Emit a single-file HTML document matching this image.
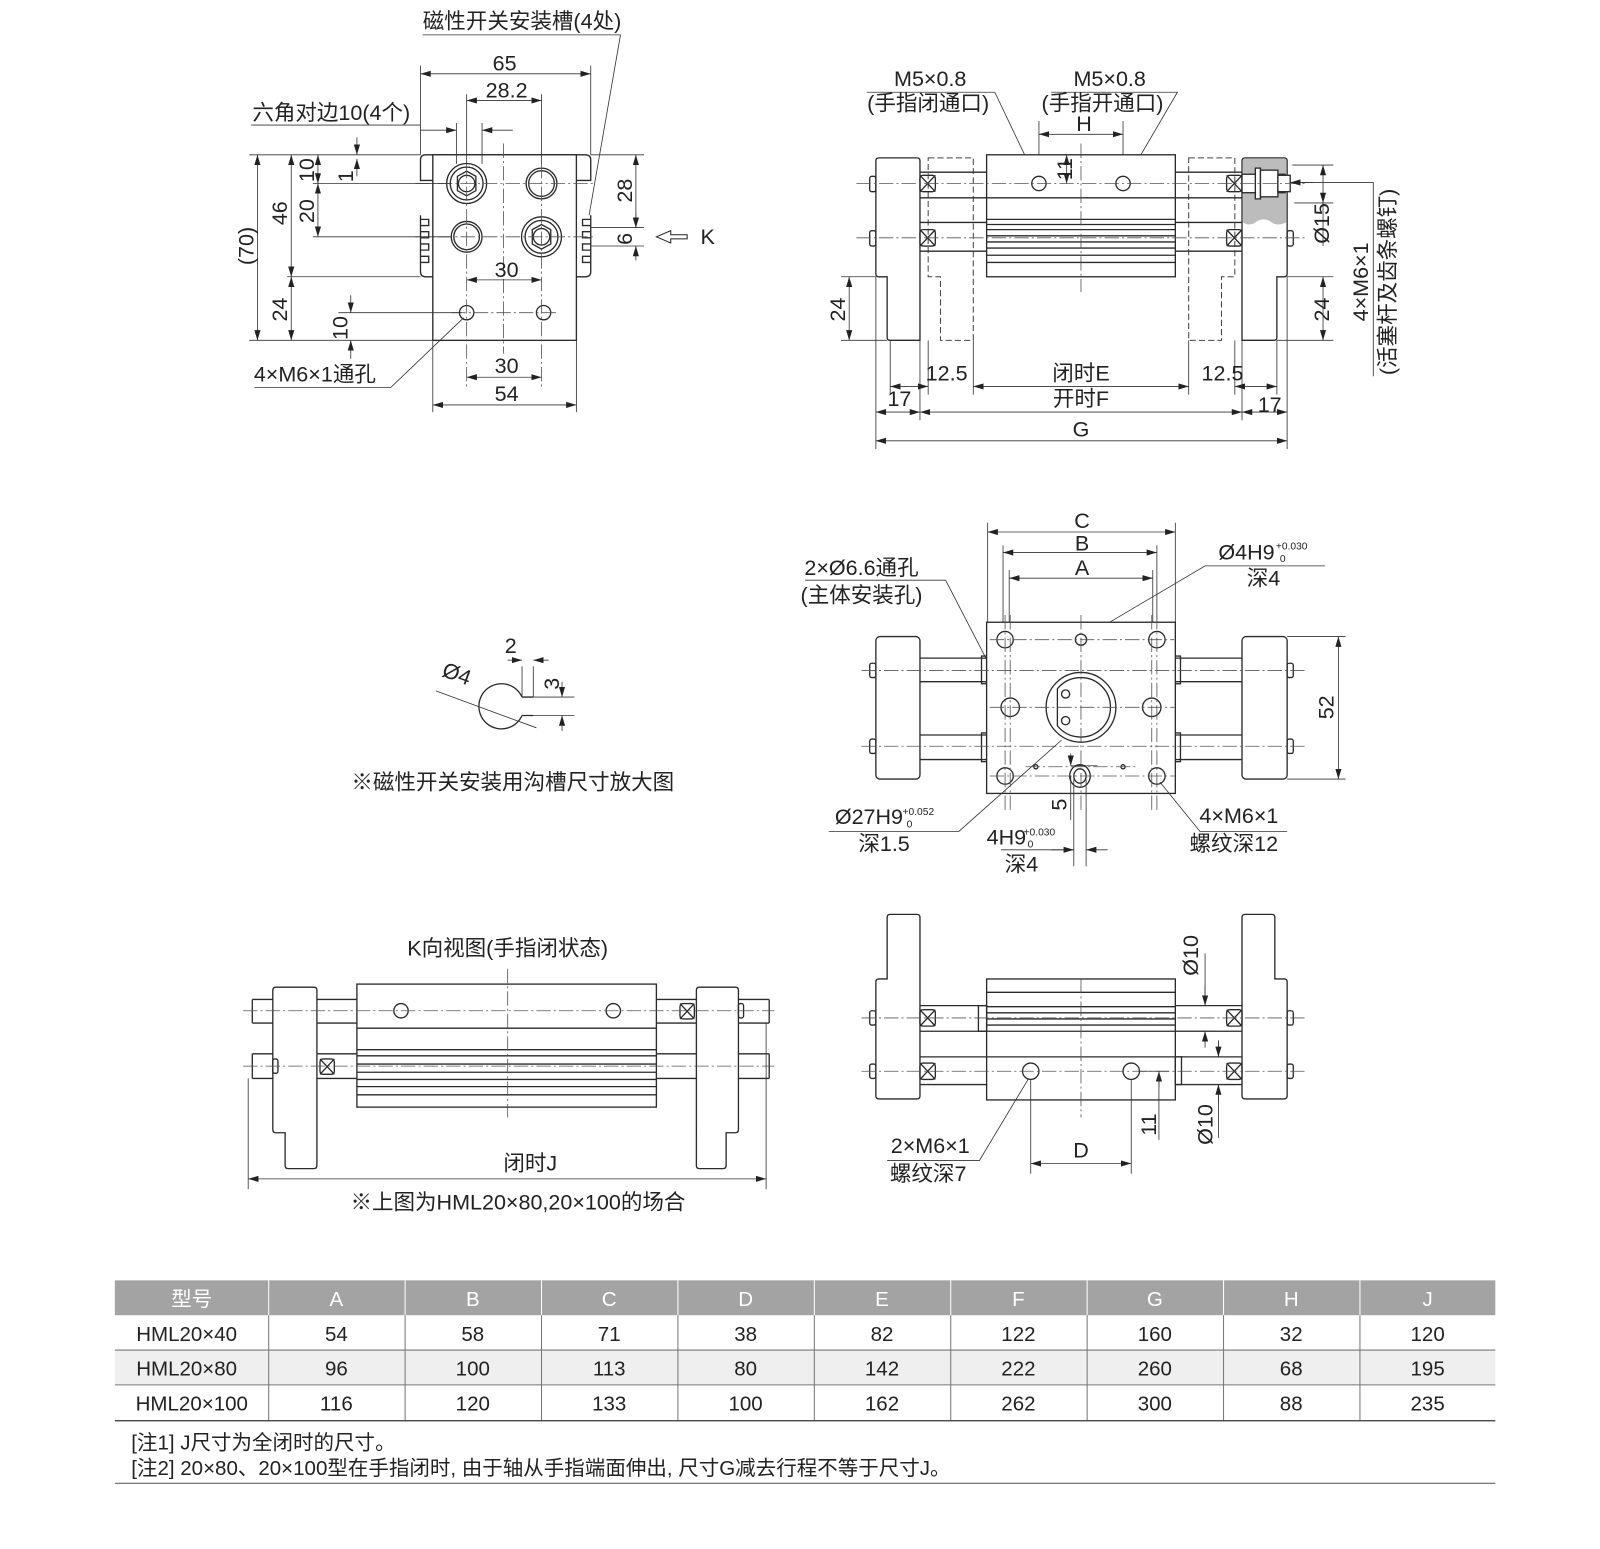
<!DOCTYPE html>
<html><head><meta charset="utf-8"><style>
html,body{margin:0;padding:0;background:#fff;}
svg{display:block;}
text{font-family:"Liberation Sans","Noto Sans CJK SC",sans-serif;fill:#222;}
.l{stroke:#2a2a2a;stroke-width:1.3;fill:none;}
.w{stroke:#2a2a2a;stroke-width:1.3;fill:#fff;}
.c{stroke:#555;stroke-width:0.8;stroke-dasharray:14 3 2 3;fill:none;}
.d{stroke:#444;stroke-width:1;stroke-dasharray:6 3;fill:none;}
.t{stroke:#333;stroke-width:0.8;fill:none;}
.a{stroke:#333;stroke-width:0.8;fill:none;marker-start:url(#ar);marker-end:url(#ar);}
.a1{stroke:#333;stroke-width:0.8;fill:none;marker-end:url(#ar);}
</style></head><body>
<svg width="1600" height="1549" viewBox="0 0 1600 1549" xmlns="http://www.w3.org/2000/svg">
<defs>
<marker id="ar" viewBox="0 0 10 6" refX="10" refY="3" markerWidth="10" markerHeight="6" orient="auto-start-reverse" markerUnits="userSpaceOnUse"><path d="M0,0 L10,3 L0,6 Z" fill="#222"/></marker>
</defs>
<g transform="scale(1.0256,1.0251)">
<!-- ================= TOP-LEFT VIEW ================= -->
<text x="509" y="28" font-size="21" text-anchor="middle">磁性开关安装槽(4处)</text>
<path class="t" d="M412,34 H605 L573,218"/>
<path class="w" d="M415,151 H571 q5,0 5,5 V176 H562 M415,151 q-5,0 -5,5 V176 H422"/>
<path class="w" d="M410,210 V265 q0,5 5,5 H571 q5,0 5,-5 V210"/>
<rect class="w" x="422" y="151" width="140" height="181"/>
<g class="l">
<path d="M410,214 h8 v6 h-8 M410,226 h8 v6 h-8 M410,238 h8 v6 h-8 M410,250 h8 v6 h-8"/>
<path d="M576,214 h-8 v6 h8 M576,226 h-8 v6 h8 M576,238 h-8 v6 h8 M576,250 h-8 v6 h8"/>
<circle cx="455" cy="179" r="19.5"/><circle cx="455" cy="179" r="16"/><circle cx="455" cy="179" r="8"/>
<polygon points="446,172 455,167 464,172 464,186 455,191 446,186"/>
<circle cx="528" cy="179" r="15"/><circle cx="528" cy="179" r="12.5"/>
<circle cx="455" cy="231" r="15"/><circle cx="455" cy="231" r="12.5"/>
<circle cx="528" cy="231" r="19.5"/><circle cx="528" cy="231" r="16"/><circle cx="528" cy="231" r="8"/>
<polygon points="519,224 528,219 537,224 537,238 528,243 519,238"/>
<circle cx="455" cy="305" r="7"/><circle cx="530" cy="305" r="7"/>
</g>
<g class="c"><path d="M491,140 V345 M405,179 H580 M405,231 H580 M440,305 H545 M455,160 V380 M528,160 V380"/></g>
<path class="t" d="M410,64 V151 M576,64 V151 M455,92 V160 M528,92 V160 M445,120 V160 M470,120 V160"/>
<path class="a" d="M410,72 H576"/><text x="492" y="69" font-size="21" text-anchor="middle">65</text>
<path class="a" d="M455,98 H528"/><text x="494" y="95" font-size="21" text-anchor="middle">28.2</text>
<path class="t" d="M245,122 H410"/><path class="a1" d="M410,127 H445"/><path class="a1" d="M500,127 H470"/>
<text x="323" y="117" font-size="21" text-anchor="middle">六角对边10(4个)</text>
<path class="t" d="M243,151 H410 M305,179 H440 M305,231 H440 M280,270 H410 M243,332 H422 M330,305 H450"/>
<path class="a" d="M251,151 V332"/><text transform="translate(247,240) rotate(-90)" font-size="21" text-anchor="middle">(70)</text>
<path class="a" d="M284,151 V270"/><text transform="translate(280,208) rotate(-90)" font-size="21" text-anchor="middle">46</text>
<path class="a" d="M284,270 V332"/><text transform="translate(280,302) rotate(-90)" font-size="21" text-anchor="middle">24</text>
<path class="a" d="M310,151 V179"/><text transform="translate(306,166) rotate(-90)" font-size="21" text-anchor="middle">10</text>
<path class="a" d="M310,179 V231"/><text transform="translate(306,206) rotate(-90)" font-size="21" text-anchor="middle">20</text>
<path class="a1" d="M348,134 V151"/><path class="a1" d="M348,172 V155"/><text transform="translate(344,172) rotate(-90)" font-size="21" text-anchor="middle">1</text>
<path class="a1" d="M342,288 V305"/><path class="a1" d="M342,350 V332"/><text transform="translate(339,320) rotate(-90)" font-size="21" text-anchor="middle">10</text>
<text x="307" y="372" font-size="21" text-anchor="middle">4×M6×1通孔</text>
<path class="t" d="M248,378 H381 L452,310"/>
<path class="t" d="M422,332 V402 M562,332 V402"/>
<path class="a" d="M455,273 H528"/><text x="494" y="270" font-size="21" text-anchor="middle">30</text>
<path class="a" d="M455,368 H528"/><text x="494" y="364" font-size="21" text-anchor="middle">30</text>
<path class="a" d="M422,395 H562"/><text x="494" y="391" font-size="21" text-anchor="middle">54</text>
<path class="t" d="M576,151 H628 M576,222 H628 M576,240 H628"/>
<path class="a" d="M620,151 V222"/><text transform="translate(616,186) rotate(-90)" font-size="21" text-anchor="middle">28</text>
<path class="a1" d="M620,208 V222"/><path class="a1" d="M620,254 V240"/><text transform="translate(616,233) rotate(-90)" font-size="21" text-anchor="middle">6</text>
<path d="M640,231 l14,-6 v4 h16 v4 h-16 v4 z" fill="#fff" stroke="#222" stroke-width="1"/>
<text x="690" y="238" font-size="21" text-anchor="middle">K</text>

<!-- ================= TOP-RIGHT VIEW ================= -->
<text x="907" y="84" font-size="21" text-anchor="middle">M5×0.8</text>
<text x="905" y="108" font-size="21" text-anchor="middle">(手指闭通口)</text>
<text x="1082" y="84" font-size="21" text-anchor="middle">M5×0.8</text>
<text x="1075" y="108" font-size="21" text-anchor="middle">(手指开通口)</text>
<path class="t" d="M845,90 H970 L1010,174 M1025,90 H1148 L1099,174"/>
<path class="t" d="M1013,118 V170 M1095,118 V170"/>
<path class="a" d="M1013,131 H1095"/><text x="1057" y="128" font-size="21" text-anchor="middle">H</text>
<path class="w" d="M857,154 H894 q3,0 3,3 V332 H868 q-3,0 -3,-3 V270 H857 q-3,0 -3,-3 V157 q0,-3 3,-3 Z"/>
<path class="d" d="M905,154 H949 V332 H917 V270 H905 Z"/>
<path class="d" d="M1159,154 H1204 V270 H1191 V332 H1159 Z"/>
<path class="w" d="M1214,154 H1252 q3,0 3,3 V267 q0,3 -3,3 H1245 V329 q0,3 -3,3 H1211 V157 q0,-3 3,-3 Z"/>
<path d="M1212,155 H1254 V217 q-8,4 -14,0 q-8,-6 -16,0 q-6,4 -12,0 Z" fill="#bcbcbc" stroke="none"/>
<g class="l">
<path d="M897,168 H962 M897,193 H962 M897,217 H962 M897,245 H962 M1146,168 H1211 M1146,193 H1211 M1146,217 H1211 M1146,245 H1211"/>
<rect x="962" y="151" width="184" height="119" fill="#fff"/>
<path d="M962,193 H1146 M962,214 H1146 M962,219 H1146 M962,224 H1146 M962,230 H1146 M962,236 H1146 M962,242 H1146 M962,249 H1146 M962,256 H1146"/>
<rect x="897" y="171" width="15" height="16" rx="3"/><path d="M897,171 L912,187 M912,171 L897,187"/>
<rect x="897" y="224" width="15" height="16" rx="3"/><path d="M897,224 L912,240 M912,224 L897,240"/>
<rect x="1196" y="171" width="15" height="16" rx="3"/><path d="M1196,171 L1211,187 M1211,171 L1196,187"/>
<rect x="1196" y="224" width="15" height="16" rx="3"/><path d="M1196,224 L1211,240 M1211,224 L1196,240"/>
<rect x="848" y="172" width="6" height="15" rx="2"/><rect x="848" y="225" width="6" height="15" rx="2"/>
<rect x="1255" y="225" width="6" height="15" rx="2"/>
<rect x="1211" y="170" width="42" height="18" fill="#fff"/>
<rect x="1224" y="164" width="5" height="30" fill="#fff"/><rect x="1229" y="166" width="17" height="26" fill="#fff"/>
<rect x="1246" y="171" width="12" height="16" fill="#fff"/>
<circle cx="1013" cy="179" r="7"/><circle cx="1095" cy="179" r="7"/>
</g>
<g class="c"><path d="M835,179 H1275 M835,232 H1275 M1054,140 V285"/></g>
<path class="t" d="M1040,151 H1062"/><path class="a" d="M1040,151 V179"/>
<text transform="translate(1038,165) rotate(-90)" font-size="21" text-anchor="middle" dy="7">11</text>
<path class="t" d="M820,270 H854 M820,332 H865"/>
<path class="a" d="M828,270 V332"/><text transform="translate(824,302) rotate(-90)" font-size="21" text-anchor="middle">24</text>
<path class="t" d="M1260,161 H1300 M1262,198 H1300 M1255,270 H1300 M1245,332 H1300"/>
<path class="a" d="M1290,161 V198"/><path class="t" d="M1290,198 V240"/>
<text transform="translate(1296,218) rotate(-90)" font-size="21" text-anchor="middle">Ø15</text>
<path class="a" d="M1290,270 V332"/><text transform="translate(1296,302) rotate(-90)" font-size="21" text-anchor="middle">24</text>
<path class="t" d="M1258,178 H1339 V367"/><path class="a1" d="M1280,178 H1258"/>
<text transform="translate(1334,275) rotate(-90)" font-size="21" text-anchor="middle">4×M6×1</text>
<text transform="translate(1360,275) rotate(-90)" font-size="21" text-anchor="middle">(活塞杆及齿条螺钉)</text>
<path class="t" d="M854,270 V438 M868,332 V385 M897,332 V410 M905,332 V385 M949,332 V385 M1159,332 V385 M1204,332 V385 M1211,332 V410 M1245,332 V385 M1255,270 V438"/>
<path class="a" d="M868,377 H905"/><text x="923" y="371" font-size="21" text-anchor="middle">12.5</text>
<path class="a" d="M949,377 H1159"/><text x="1054" y="371" font-size="21" text-anchor="middle">闭时E</text>
<path class="a" d="M1204,377 H1245"/><text x="1192" y="371" font-size="21" text-anchor="middle">12.5</text>
<path class="a" d="M854,402 H897"/><text x="877" y="396" font-size="21" text-anchor="middle">17</text>
<path class="a" d="M897,402 H1211"/><text x="1054" y="396" font-size="21" text-anchor="middle">开时F</text>
<path class="a" d="M1211,402 H1255"/><text x="1238" y="402" font-size="21" text-anchor="middle">17</text>
<path class="a" d="M854,430 H1255"/><text x="1054" y="426" font-size="21" text-anchor="middle">G</text>

<!-- ================= GROOVE DETAIL ================= -->
<path class="l" d="M509,680 A22,22 0 1 0 509,698"/>
<path class="l" d="M509,680 H520 M509,698 H520"/>
<path class="t" d="M509,650 V680 M520,650 V680 M520,680 H560 M520,698 H560"/>
<path class="a1" d="M495,644 H509"/><path class="a1" d="M535,644 H520"/><text x="498" y="637" font-size="21" text-anchor="middle">2</text>
<path class="a1" d="M548,665 V680"/><path class="a1" d="M548,713 V698"/><text transform="translate(545,667) rotate(-90)" font-size="21" text-anchor="middle">3</text>
<path class="t" d="M425,674 L523,710"/>
<text transform="translate(443,664) rotate(20)" font-size="21" text-anchor="middle">Ø4</text>
<text x="500" y="770" font-size="21" text-anchor="middle">※磁性开关安装用沟槽尺寸放大图</text>

<!-- ================= MIDDLE-RIGHT VIEW ================= -->
<path class="t" d="M963,510 V607 M1146,510 V607 M978,532 V607 M1128,532 V607 M984,556 V607 M1124,556 V607"/>
<path class="a" d="M963,519 H1146"/><text x="1055" y="515" font-size="21" text-anchor="middle">C</text>
<path class="a" d="M978,539 H1128"/><text x="1055" y="537" font-size="21" text-anchor="middle">B</text>
<path class="a" d="M984,564 H1124"/><text x="1055" y="561" font-size="21" text-anchor="middle">A</text>
<text x="840" y="561" font-size="21" text-anchor="middle">2×Ø6.6通孔</text>
<text x="840" y="588" font-size="21" text-anchor="middle">(主体安装孔)</text>
<path class="t" d="M785,566 H922 L983,684"/>
<text x="1188" y="546" font-size="21">Ø4H9</text><text x="1244" y="536" font-size="10">+0.030</text><text x="1248" y="548" font-size="10">0</text>
<text x="1232" y="571" font-size="21" text-anchor="middle">深4</text>
<path class="t" d="M1292,552 H1175 L1060,620"/>
<g class="l">
<rect x="854" y="621" width="43" height="139" rx="4" fill="#fff"/>
<rect x="1211" y="621" width="44" height="139" rx="4" fill="#fff"/>
<path d="M897,642 H962 M897,665 H962 M897,717 H962 M897,741 H962"/>
<path d="M1146,642 H1211 M1146,665 H1211 M1146,717 H1211 M1146,741 H1211"/>
<rect x="957" y="640" width="5" height="27"/><rect x="957" y="715" width="5" height="28"/>
<rect x="1146" y="640" width="5" height="27"/><rect x="1146" y="715" width="5" height="28"/>
<rect x="848" y="647" width="6" height="14" rx="2"/><rect x="848" y="721" width="6" height="14" rx="2"/>
<rect x="1255" y="647" width="6" height="14" rx="2"/><rect x="1255" y="721" width="6" height="14" rx="2"/>
<rect x="962" y="607" width="184" height="167" fill="#fff"/>
<circle cx="980" cy="624" r="8"/><circle cx="1128" cy="624" r="8"/><circle cx="980" cy="757" r="8"/><circle cx="1128" cy="757" r="8"/>
<circle cx="985" cy="690" r="9"/><circle cx="1123" cy="690" r="9"/><circle cx="1054" cy="624" r="5.5"/>
<circle cx="1054" cy="690" r="34"/>
<path d="M1031,672 A29,29 0 1 1 1031,708 Z"/>
<circle cx="1039" cy="677" r="4"/><circle cx="1039" cy="703" r="4"/>
<ellipse cx="1053" cy="757" rx="10" ry="11"/><ellipse cx="1053" cy="757" rx="6" ry="7"/>
<circle cx="1010" cy="748" r="2"/><circle cx="1095" cy="748" r="2"/>
</g>
<g class="c"><path d="M840,654 H1275 M840,728 H1275 M965,624 H1145 M965,690 H1145 M965,757 H1145 M1000,748 H1110 M980,600 V790 M1128,600 V790 M985,600 V790 M1123,600 V790 M1054,600 V790"/></g>
<path class="t" d="M1255,621 H1312 M1255,760 H1312"/>
<path class="a" d="M1305,621 V760"/><text transform="translate(1300,690) rotate(-90)" font-size="21" text-anchor="middle">52</text>
<text x="814" y="804" font-size="21">Ø27H9</text><text x="880" y="795" font-size="10">+0.052</text><text x="884" y="807" font-size="10">0</text>
<text x="862" y="830" font-size="21" text-anchor="middle">深1.5</text>
<path class="t" d="M808,811 H935 L1035,722"/>
<path class="t" d="M1044,747 H1070 M1040,774 H1058 M1044,757 V800"/>
<path class="a1" d="M1044,735 V747"/><text transform="translate(1040,785) rotate(-90)" font-size="21" text-anchor="middle">5</text>
<text x="962" y="824" font-size="21">4H9</text><text x="998" y="815" font-size="10">+0.030</text><text x="1002" y="827" font-size="10">0</text>
<text x="996" y="850" font-size="21" text-anchor="middle">深4</text>
<path class="t" d="M976,829 H1047 M1047,760 V845 M1059,760 V845"/>
<path class="a1" d="M1025,829 H1047"/><path class="a1" d="M1080,829 H1059"/>
<text x="1208" y="803" font-size="21" text-anchor="middle">4×M6×1</text>
<text x="1203" y="830" font-size="21" text-anchor="middle">螺纹深12</text>
<path class="t" d="M1255,811 H1170 L1131,763"/>

<!-- ================= K VIEW ================= -->
<text x="495" y="932" font-size="21" text-anchor="middle">K向视图(手指闭状态)</text>
<g class="l">
<path d="M246,975 H750 M246,998 H750 M246,1028 H750 M246,1052 H750 M246,975 V998 M246,1028 V1052 M750,975 V998 M750,1028 V1052"/>
<path d="M269,963 H306 q3,0 3,3 V1137 q0,3 -3,3 H281 q-3,0 -3,-3 V1105 H269 q-3,0 -3,-3 V966 q0,-3 3,-3 Z" fill="#fff"/>
<path d="M682,963 H717 q3,0 3,3 V1102 q0,3 -3,3 H708 V1137 q0,3 -3,3 H682 q-3,0 -3,-3 V966 q0,-3 3,-3 Z" fill="#fff"/>
<rect x="348" y="960" width="292" height="120" fill="#fff"/>
<path d="M348,1003 H640 M348,1024 H640 M348,1030 H640 M348,1038 H640 M348,1046 H640 M348,1053 H640 M348,1060 H640 M348,1068 H640"/>
<circle cx="391" cy="986" r="7"/><circle cx="598" cy="986" r="7"/>
<rect x="663" y="979" width="14" height="15" rx="3"/><path d="M663,979 L677,994 M677,979 L663,994"/>
<rect x="312" y="1033" width="14" height="15" rx="3"/><path d="M312,1033 L326,1048 M326,1033 L312,1048"/>
<rect x="266" y="1033" width="5" height="14" rx="2"/><rect x="720" y="979" width="5" height="14" rx="2"/>
</g>
<g class="c"><path d="M237,986 H755 M237,1040 H755 M495,945 V1090"/></g>
<path class="t" d="M242,1052 V1160 M747,998 V1160"/>
<path class="a" d="M242,1150 H747"/><text x="517" y="1142" font-size="21" text-anchor="middle">闭时J</text>
<text x="505" y="1180" font-size="21" text-anchor="middle">※上图为HML20×80,20×100的场合</text>

<!-- ================= BOTTOM-RIGHT VIEW ================= -->
<g class="l">
<path d="M897,981 H962 M897,1006 H962 M897,1031 H962 M897,1058 H962 M1146,981 H1211 M1146,1006 H1211 M1146,1031 H1211 M1146,1058 H1211"/>
<path d="M868,892 H894 q3,0 3,3 V1069 q0,3 -3,3 H857 q-3,0 -3,-3 V958 q0,-3 3,-3 H865 V895 q0,-3 3,-3 Z" fill="#fff"/>
<path d="M1214,892 H1240 q3,0 3,3 V955 H1252 q3,0 3,3 V1069 q0,3 -3,3 H1214 q-3,0 -3,-3 V895 q0,-3 3,-3 Z" fill="#fff"/>
<rect x="962" y="955" width="184" height="118" fill="#fff"/>
<path d="M962,968 H1146 M962,982 H1146 M962,988 H1146 M962,994 H1146 M962,1000 H1146 M962,1006 H1146 M962,1031 H1146"/>
<rect x="954" y="981" width="8" height="25"/><rect x="1146" y="1031" width="6" height="27"/>
<circle cx="1005" cy="1045" r="8"/><circle cx="1103" cy="1045" r="8"/>
<rect x="897" y="985" width="15" height="16" rx="3"/><path d="M897,985 L912,1001 M912,985 L897,1001"/>
<rect x="897" y="1037" width="15" height="16" rx="3"/><path d="M897,1037 L912,1053 M912,1037 L897,1053"/>
<rect x="1196" y="985" width="15" height="16" rx="3"/><path d="M1196,985 L1211,1001 M1211,985 L1196,1001"/>
<rect x="1196" y="1037" width="15" height="16" rx="3"/><path d="M1196,1037 L1211,1053 M1211,1037 L1196,1053"/>
<rect x="848" y="986" width="6" height="14" rx="2"/><rect x="848" y="1038" width="6" height="14" rx="2"/>
<rect x="1255" y="986" width="6" height="14" rx="2"/><rect x="1255" y="1038" width="6" height="14" rx="2"/>
</g>
<g class="c"><path d="M840,993 H1275 M840,1045 H1275 M1054,955 V1090"/></g>
<path class="t" d="M1146,981 H1185 M1146,1006 H1185 M1158,1031 H1195 M1146,1058 H1195"/>
<path class="t" d="M1175,930 V981 M1175,1006 V1016"/><path class="a1" d="M1175,962 V981"/><path class="a1" d="M1175,1022 V1006"/>
<text transform="translate(1168,932) rotate(-90)" font-size="21" text-anchor="middle">Ø10</text>
<path class="t" d="M1188,1015 V1031 M1188,1058 V1110"/><path class="a1" d="M1188,1015 V1031"/><path class="a1" d="M1188,1075 V1058"/>
<text transform="translate(1182,1097) rotate(-90)" font-size="21" text-anchor="middle">Ø10</text>
<path class="t" d="M1110,1045 H1140 M1146,1073 H1140"/><path class="a1" d="M1130,1060 V1045"/><path class="t" d="M1130,1045 V1112"/>
<text transform="translate(1127,1097) rotate(-90)" font-size="21" text-anchor="middle">11</text>
<path class="t" d="M1005,1053 V1145 M1103,1053 V1145"/>
<path class="a" d="M1005,1135 H1103"/><text x="1054" y="1129" font-size="21" text-anchor="middle">D</text>
<text x="907" y="1125" font-size="21" text-anchor="middle">2×M6×1</text>
<text x="905" y="1152" font-size="21" text-anchor="middle">螺纹深7</text>
<path class="t" d="M865,1132 H955 L1003,1052"/>

<!-- ================= TABLE ================= -->
<rect x="112" y="1249" width="1346" height="34" fill="#a3a3a3"/>
<rect x="112" y="1317" width="1346" height="34" fill="#efefef"/>
<g stroke="#fff" stroke-width="1"><path d="M262,1249 V1283 M395,1249 V1283 M528,1249 V1283 M661,1249 V1283 M794,1249 V1283 M927,1249 V1283 M1060,1249 V1283 M1193,1249 V1283 M1326,1249 V1283"/></g>
<g stroke="#777" stroke-width="1"><path d="M262,1283 V1386 M395,1283 V1386 M528,1283 V1386 M661,1283 V1386 M794,1283 V1386 M927,1283 V1386 M1060,1283 V1386 M1193,1283 V1386 M1326,1283 V1386"/>
<path d="M112,1317 H1458 M112,1351 H1458"/></g>
<path d="M112,1386 H1458" stroke="#333" stroke-width="1.2"/>
<path d="M112,1447 H1458" stroke="#666" stroke-width="1"/>
<g font-size="20" text-anchor="middle">
<text x="187" y="1274" style="fill:#fff">型号</text><text x="328" y="1274" style="fill:#fff">A</text><text x="461" y="1274" style="fill:#fff">B</text><text x="594" y="1274" style="fill:#fff">C</text><text x="727" y="1274" style="fill:#fff">D</text><text x="860" y="1274" style="fill:#fff">E</text><text x="993" y="1274" style="fill:#fff">F</text><text x="1126" y="1274" style="fill:#fff">G</text><text x="1259" y="1274" style="fill:#fff">H</text><text x="1392" y="1274" style="fill:#fff">J</text>
<text x="182" y="1308">HML20×40</text><text x="328" y="1308">54</text><text x="461" y="1308">58</text><text x="594" y="1308">71</text><text x="727" y="1308">38</text><text x="860" y="1308">82</text><text x="993" y="1308">122</text><text x="1126" y="1308">160</text><text x="1259" y="1308">32</text><text x="1392" y="1308">120</text>
<text x="182" y="1342">HML20×80</text><text x="328" y="1342">96</text><text x="461" y="1342">100</text><text x="594" y="1342">113</text><text x="727" y="1342">80</text><text x="860" y="1342">142</text><text x="993" y="1342">222</text><text x="1126" y="1342">260</text><text x="1259" y="1342">68</text><text x="1392" y="1342">195</text>
<text x="187" y="1376">HML20×100</text><text x="328" y="1376">116</text><text x="461" y="1376">120</text><text x="594" y="1376">133</text><text x="727" y="1376">100</text><text x="860" y="1376">162</text><text x="993" y="1376">262</text><text x="1126" y="1376">300</text><text x="1259" y="1376">88</text><text x="1392" y="1376">235</text>
</g>
<text x="128" y="1414" font-size="20">[注1] J尺寸为全闭时的尺寸。</text>
<text x="128" y="1439" font-size="20">[注2] 20×80、20×100型在手指闭时, 由于轴从手指端面伸出, 尺寸G减去行程不等于尺寸J。</text>
</g>
</svg>
</body></html>
